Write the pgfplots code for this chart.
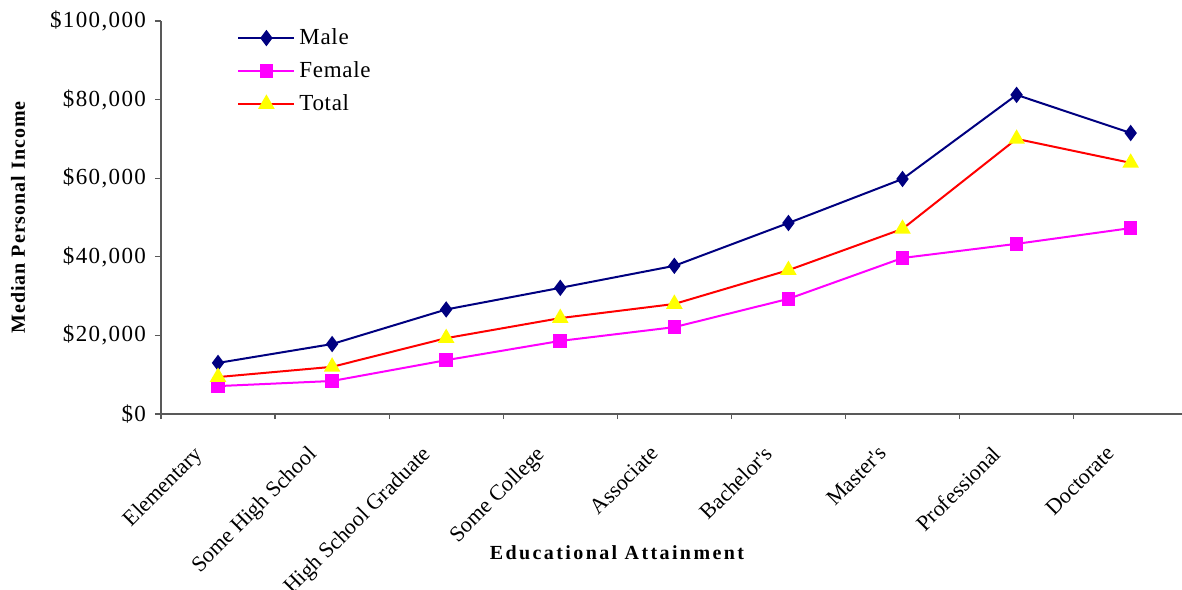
\documentclass[border=0pt]{standalone}
\usepackage{fontspec}
\setmainfont{Liberation Serif}
\usepackage{pgfplots}
\pgfplotsset{compat=1.18}
\definecolor{navyc}{RGB}{0,0,128}
\definecolor{magc}{RGB}{255,0,255}
\definecolor{redc}{RGB}{255,0,0}
\definecolor{yelc}{RGB}{255,255,0}
\begin{document}
\begin{tikzpicture}
\begin{axis}[
  scale only axis,
  width=510.5pt, height=196.5pt,
  xmin=-0.5, xmax=8.45,
  ymin=0, ymax=100000,
  scaled y ticks=false,
  axis x line*=bottom, axis y line*=left,
  axis line style={black!65, line width=0.6pt},
  xtick={0,...,8},
  xticklabels={Elementary,Some High School,High School Graduate,Some College,Associate,Bachelor\textquotesingle s,Master\textquotesingle s,Professional,Doctorate},
  minor xtick={-0.5,0.5,...,7.5},
  major x tick style={draw=none},
  minor x tick style={black!65, line width=0.6pt},
  minor tick length=2.6pt,
  ytick={0,20000,40000,60000,80000,100000},
  yticklabels={{\$0},{\$20,000},{\$40,000},{\$60,000},{\$80,000},{\$100,000}},
  y tick style={black!65, line width=0.6pt},
  major tick length=3pt,
  tick align=outside,
  tick pos=left,
  xticklabel style={font=\fontsize{11}{13}\selectfont, rotate=45, anchor=north east, inner sep=2pt, yshift=2.4pt, xshift=-15.5pt},
  yticklabel style={font=\fontsize{11.5}{13}\selectfont\addfontfeature{LetterSpace=6}, xshift=-1pt},
  xlabel={Educational Attainment},
  ylabel={Median Personal Income},
  xlabel style={at={(axis description cs:0.4466,-0.354)}, anchor=center, font=\fontsize{10}{12}\selectfont\bfseries\addfontfeature{LetterSpace=12}},
  ylabel style={at={(axis description cs:-0.140,0.5)}, anchor=center, font=\fontsize{10}{12}\selectfont\bfseries\addfontfeature{LetterSpace=5}},
  legend style={at={(axis description cs:0.0725,0.997)}, anchor=north west, draw=none, fill=none, font=\fontsize{11.5}{13}\selectfont\addfontfeature{LetterSpace=3}, row sep=3pt, inner sep=1pt},
  legend cell align=left,
  legend image code/.code={\draw[mark repeat=2,mark phase=2] plot coordinates {(0pt,0pt) (14pt,0pt) (28pt,0pt)};},
  clip=false,
]
\addplot[color=navyc, line width=1pt, mark=diamond*, mark size=3.3pt, mark options={fill=navyc, draw=navyc}] coordinates {
(0,13000) (1,17800) (2,26600) (3,32100) (4,37700) (5,48600) (6,59800) (7,81200) (8,71500)};
\addlegendentry{Male}
\addplot[color=magc, line width=1pt, mark=square*, mark size=2.9pt, mark options={fill=magc, draw=magc}] coordinates {
(0,7100) (1,8400) (2,13700) (3,18600) (4,22100) (5,29300) (6,39700) (7,43300) (8,47300)};
\addlegendentry{Female}
\addplot[color=redc, line width=1pt, mark=triangle*, mark size=3.8pt, mark options={fill=yelc, draw=yelc}] coordinates {
(0,9400) (1,12000) (2,19300) (3,24400) (4,28000) (5,36600) (6,47100) (7,70000) (8,63900)};
\addlegendentry{Total}
\coordinate (bl) at (rel axis cs:0,0);
\coordinate (tr) at (rel axis cs:1,1);
\end{axis}
\pgfresetboundingbox
\path ([xshift=-80.5pt,yshift=-87.5pt]bl) rectangle ([yshift=10.5pt]tr);
\end{tikzpicture}
\end{document}
